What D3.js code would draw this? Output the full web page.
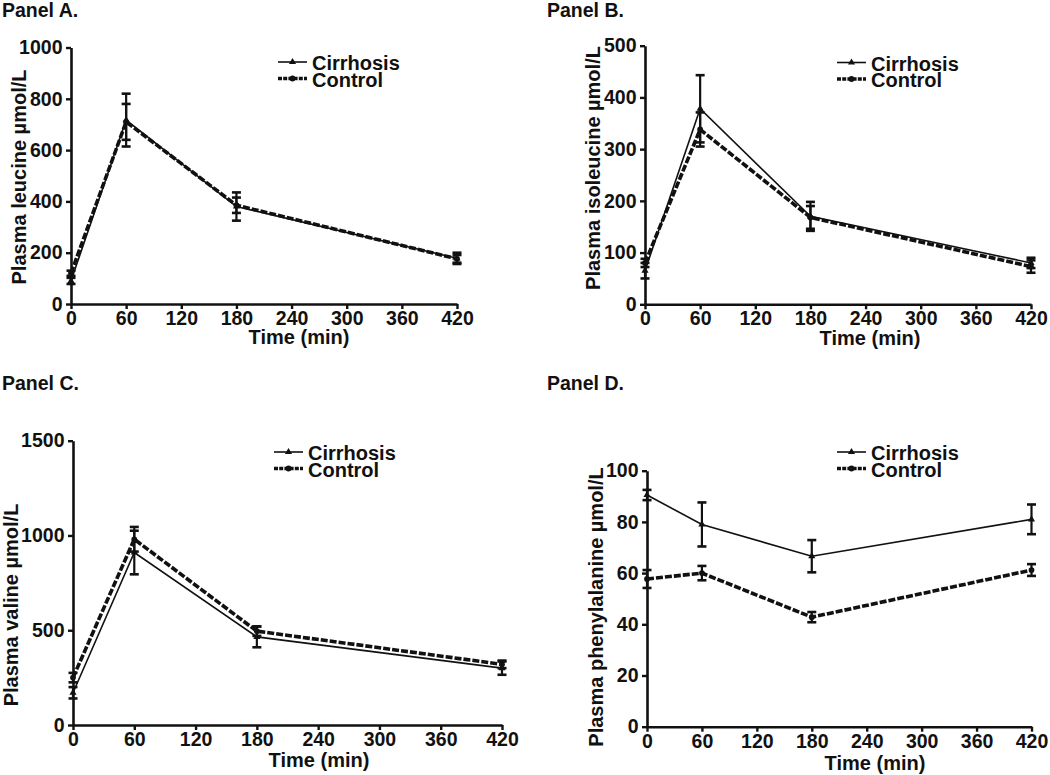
<!DOCTYPE html>
<html>
<head>
<meta charset="utf-8">
<script src="https://cdn.jsdelivr.net/npm/d3@7"></script>
<style>
  html, body { margin: 0; padding: 0; background: #fff; }
  svg { display: block; }
  text { font-family: "Liberation Sans", Arial, Helvetica, sans-serif; font-weight: bold; fill: #111; }
</style>
</head>
<body>
<svg id="chart" width="1050" height="775"></svg>
<script>
// ---------- data ----------
const times = [0, 60, 180, 420];
const xTickValues = [0, 60, 120, 180, 240, 300, 360, 420];
const seriesNames = ["Cirrhosis", "Control"];

// Panel A: leucine
const leuCirrMean = [90, 717, 380, 178];
const leuCirrSem  = [12, 103, 55, 22];
const leuCtrlMean = [120, 710, 385, 176];
const leuCtrlSem  = [10, 70, 30, 15];
const leuTicks = [0, 200, 400, 600, 800, 1000];

// Panel B: isoleucine
const isoCirrMean = [65, 378, 170, 80];
const isoCirrSem  = [15, 65, 28, 10];
const isoCtrlMean = [80, 338, 168, 73];
const isoCtrlSem  = [8, 33, 22, 12];
const isoTicks = [0, 100, 200, 300, 400, 500];

// Panel C: valine
const valCirrMean = [170, 910, 465, 300];
const valCirrSem  = [30, 115, 55, 35];
const valCtrlMean = [250, 980, 495, 320];
const valCtrlSem  = [25, 65, 25, 20];
const valTicks = [0, 500, 1000, 1500];

// Panel D: phenylalanine
const pheCirrMean = [90.5, 79, 66.6, 81];
const pheCirrSem  = [2, 8.6, 6.3, 5.8];
const pheCtrlMean = [57.7, 60, 42.8, 61.2];
const pheCtrlSem  = [3.5, 2.8, 2, 2.3];
const pheTicks = [0, 20, 40, 60, 80, 100];

// ---------- layout ----------
const panels = [
  { label: "Panel A.", lx: 2, ly: 17, x0: 71, x1: 457, y0: 304, y1: 47.5, max: 1000, ticks: leuTicks,
    ytitle: "Plasma leucine µmol/L", ytx: 26, yty: 177, xtx: 299, xty: 344,
    legX: 278, legY: 62, cirr: [leuCirrMean, leuCirrSem], ctrl: [leuCtrlMean, leuCtrlSem] },
  { label: "Panel B.", lx: 547, ly: 17, x0: 645, x1: 1031, y0: 304.3, y1: 45.7, max: 500, ticks: isoTicks,
    ytitle: "Plasma isoleucine µmol/L", ytx: 600, yty: 168, xtx: 870, xty: 345,
    legX: 837, legY: 62.5, cirr: [isoCirrMean, isoCirrSem], ctrl: [isoCtrlMean, isoCtrlSem] },
  { label: "Panel C.", lx: 2, ly: 390, x0: 73, x1: 502, y0: 725, y1: 440.7, max: 1500, ticks: valTicks,
    ytitle: "Plasma valine µmol/L", ytx: 18, yty: 605, xtx: 319, xty: 767,
    legX: 274, legY: 452, cirr: [valCirrMean, valCirrSem], ctrl: [valCtrlMean, valCtrlSem] },
  { label: "Panel D.", lx: 547, ly: 390, x0: 647, x1: 1031.5, y0: 726.7, y1: 470.7, max: 100, ticks: pheTicks,
    ytitle: "Plasma phenylalanine µmol/L", ytx: 603, yty: 607, xtx: 875, xty: 770,
    legX: 837, legY: 452, cirr: [pheCirrMean, pheCirrSem], ctrl: [pheCtrlMean, pheCtrlSem] }
];

const svg = d3.select("#chart");
const ink = "#111";

const triangle = d3.symbol().type(d3.symbolTriangle).size(22);
const circle = d3.symbol().type(d3.symbolCircle).size(26);

const styles = {
  Cirrhosis: { width: 1.6, dash: null, sym: triangle },
  Control:   { width: 3.6, dash: "7,2", sym: circle }
};

panels.forEach(p => {
  const g = svg.append("g");
  const x = d3.scaleLinear().domain([0, 420]).range([p.x0, p.x1]);
  const y = d3.scaleLinear().domain([0, p.max]).range([p.y0, p.y1]);

  // panel label
  g.append("text").attr("x", p.lx).attr("y", p.ly).attr("font-size", 19.5).text(p.label);

  // axes
  const xAxis = g.append("g").attr("transform", `translate(0,${p.y0})`)
    .call(d3.axisBottom(x).tickValues(xTickValues).tickSize(5).tickSizeOuter(0).tickPadding(2).tickFormat(d3.format("d")));
  const yAxis = g.append("g").attr("transform", `translate(${p.x0},0)`)
    .call(d3.axisLeft(y).tickValues(p.ticks).tickSize(5).tickSizeOuter(0).tickPadding(3.5).tickFormat(d3.format("d")));
  [xAxis, yAxis].forEach(a => {
    a.select(".domain").attr("stroke", ink).attr("stroke-width", 2.6);
    a.selectAll(".tick line").attr("stroke", ink).attr("stroke-width", 2.4);
    a.selectAll(".tick text").attr("font-size", 19.5).attr("fill", ink)
      .style("font-family", '"Liberation Sans", Arial, sans-serif').style("font-weight", "bold");
  });

  // axis titles
  g.append("text").attr("x", p.xtx).attr("y", p.xty).attr("text-anchor", "middle")
    .attr("font-size", 20).text("Time (min)");
  g.append("text").attr("transform", `translate(${p.ytx},${p.yty}) rotate(-90)`)
    .attr("text-anchor", "middle").attr("font-size", 20).text(p.ytitle);

  // series
  const series = [
    { name: "Cirrhosis", mean: p.cirr[0], sem: p.cirr[1] },
    { name: "Control", mean: p.ctrl[0], sem: p.ctrl[1] }
  ];
  const line = d3.line().x((d, i) => x(times[i])).y(d => y(d));

  series.forEach(s => {
    const st = styles[s.name];
    const pts = s.mean.map((m, i) => ({ t: times[i], m, e: s.sem[i] }));
    // error bars
    const eb = g.append("g").attr("stroke", ink).attr("stroke-width", 2.2);
    pts.forEach(d => {
      eb.append("line").attr("x1", x(d.t)).attr("x2", x(d.t)).attr("y1", y(d.m - d.e)).attr("y2", y(d.m + d.e));
      [d.m - d.e, d.m + d.e].forEach(v => {
        eb.append("line").attr("x1", x(d.t) - 4.5).attr("x2", x(d.t) + 4.5)
          .attr("y1", y(v)).attr("y2", y(v)).attr("stroke-width", 2.6);
      });
    });
    g.append("path").datum(s.mean).attr("d", line).attr("fill", "none")
      .attr("stroke", ink).attr("stroke-width", st.width)
      .attr("stroke-dasharray", st.dash);
    g.selectAll(null).data(pts).enter().append("path")
      .attr("d", st.sym).attr("transform", d => `translate(${x(d.t)},${y(d.m)})`).attr("fill", ink);
  });

  // legend
  seriesNames.forEach((name, i) => {
    const st = styles[name];
    const ly = p.legY + i * 16.5;
    g.append("line").attr("x1", p.legX).attr("x2", p.legX + 29).attr("y1", ly).attr("y2", ly)
      .attr("stroke", ink).attr("stroke-width", st.width).attr("stroke-dasharray", st.dash ? "4,1.2" : null);
    g.append("path").attr("d", st.sym).attr("transform", `translate(${p.legX + 14.5},${ly})`).attr("fill", ink);
    g.append("text").attr("x", p.legX + 34).attr("y", ly + 8).attr("font-size", 20).text(name);
  });
});
</script>
</body>
</html>
